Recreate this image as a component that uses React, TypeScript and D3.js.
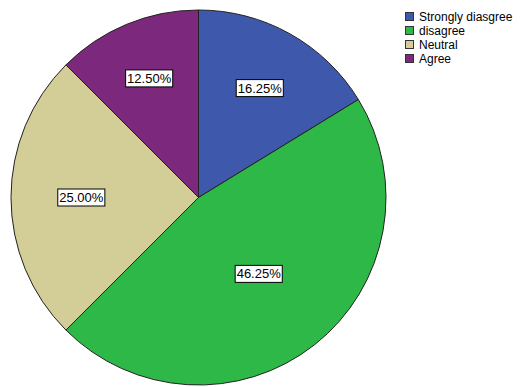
import React from "react";
import * as d3 from "d3";

const categories = ["Strongly diasgree", "disagree", "Neutral", "Agree"];
const values = [16.25, 46.25, 25.0, 12.5];
const labels = ["16.25%", "46.25%", "25.00%", "12.50%"];
const colors = ["#3E58AC", "#2EB848", "#D3CE97", "#7C287D"];

const W = 525;
const H = 387;

export default function App() {
  const cx = 198.5;
  const cy = 197.5;
  const r = 187.5;
  const total = d3.sum(values);
  const pie = d3.pie<number>().sort(null).value((d) => d)(values);
  const arc = d3.arc<d3.PieArcDatum<number>>().innerRadius(0).outerRadius(r);
  const fontSize = 13;
  const charW = (s: string) => {
    let w = 0;
    for (const c of s) w += c === "." ? 0.278 : c === "%" ? 0.889 : 0.556;
    return w * fontSize;
  };
  return (
    <svg
      width={W}
      height={H}
      style={{ position: "absolute", left: 0, top: 0, background: "#fff" }}
      fontFamily="'Liberation Sans', Arial, sans-serif"
    >
      <g transform={`translate(${cx},${cy})`}>
        {pie.map((p, i) => (
          <path
            key={i}
            d={arc(p) || ""}
            fill={colors[i]}
            stroke="#222"
            strokeWidth={1}
          />
        ))}
      </g>
      {pie.map((p, i) => {
        const frac = p.value / total;
        const lr = r * (0.75 - 0.5 * frac);
        const la = d3.arc<d3.PieArcDatum<number>>().innerRadius(lr).outerRadius(lr);
        const [lx, ly] = la.centroid(p);
        const x = cx + lx;
        const y = cy + ly;
        const tw = charW(labels[i]);
        const bw = tw + 3;
        const bh = 17;
        return (
          <g key={i}>
            <rect
              x={x - bw / 2}
              y={y - bh / 2}
              width={bw}
              height={bh}
              fill="#fff"
              stroke="#000"
              strokeWidth={1}
            />
            <text
              x={x}
              y={y}
              textAnchor="middle"
              dominantBaseline="central"
              fontSize={fontSize}
              fill="#000"
            >
              {labels[i]}
            </text>
          </g>
        );
      })}
      <g transform="translate(405,12)">
        {categories.map((c, i) => (
          <g key={c} transform={`translate(0,${i * 14})`}>
            <rect x={0.5} y={0.5} width={8} height={8} fill={colors[i]} stroke="#333" strokeWidth={1} />
            <text x={14} y={4.5} dominantBaseline="central" fontSize={12} fill="#000">
              {c}
            </text>
          </g>
        ))}
      </g>
    </svg>
  );
}
